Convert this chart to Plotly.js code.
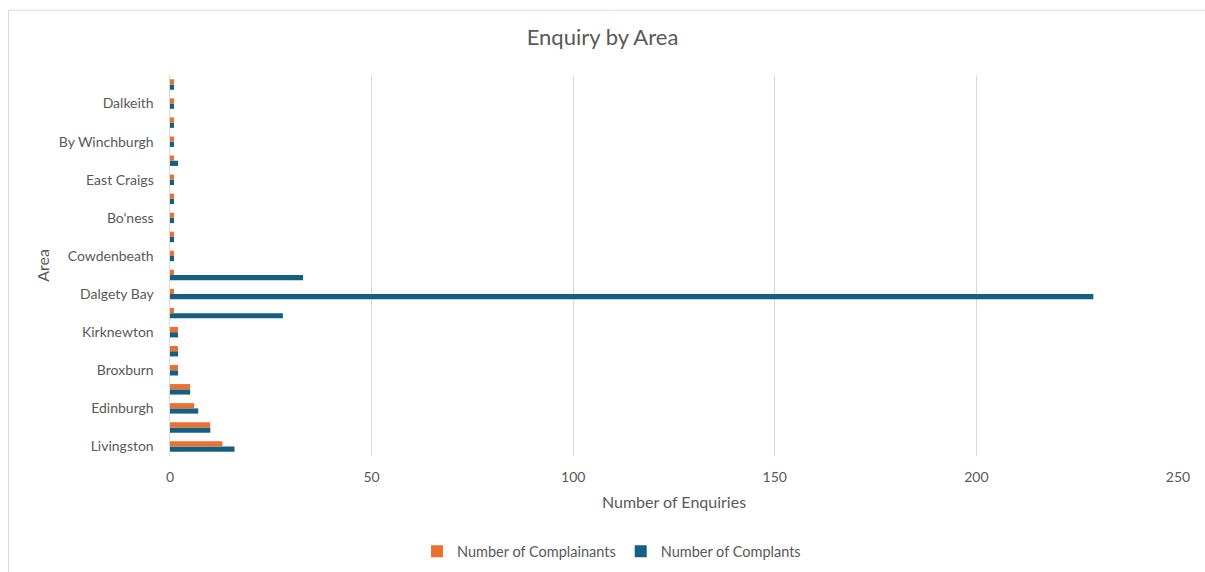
<!DOCTYPE html>
<html>
<head>
<meta charset="utf-8">
<script src="https://cdn.plot.ly/plotly-3.0.1.min.js"></script>
<style>
  html, body { margin: 0; padding: 0; background: #ffffff; overflow: hidden; }
  #chart { position: absolute; left: 0; top: 0; width: 1205px; height: 572px; }
</style>
</head>
<body>
<div id="chart"></div>
<script>
// 20 area rows, bottom to top; only every other row carries a visible label
const areaLabels = ["Livingston", "", "Edinburgh", "", "Broxburn", "", "Kirknewton", "", "Dalgety Bay", "",
                    "Cowdenbeath", "", "Bo'ness", "", "East Craigs", "", "By Winchburgh", "", "Dalkeith", ""];
const complainants = [13, 10, 6, 5, 2, 2, 2, 1, 1, 1, 1, 1, 1, 1, 1, 1, 1, 1, 1, 1];
const complaints   = [16, 10, 7, 5, 2, 2, 2, 28, 229, 33, 1, 1, 1, 1, 1, 2, 1, 1, 1, 1];
const xTicks = [0, 50, 100, 150, 200, 250];

const rowPos = areaLabels.map((_, i) => i);
const labelledPos = rowPos.filter(i => areaLabels[i] !== "");
const labelledText = labelledPos.map(i => areaLabels[i]);

const font = "Lato, 'Open Sans', sans-serif";
const grey = "#595959";
const M = { l: 170, r: 27, t: 74.5, b: 115.5 };
const plotH = 572 - M.t - M.b;

const data = [
  {
    type: "bar", orientation: "h", name: "Number of Complants",
    x: complaints, y: rowPos,
    marker: { color: "#156082" }, hoverinfo: "x+name"
  },
  {
    type: "bar", orientation: "h", name: "Number of Complainants",
    x: complainants, y: rowPos,
    marker: { color: "#E97132" }, hoverinfo: "x+name"
  }
];

const layout = {
  width: 1205, height: 572,
  paper_bgcolor: "#ffffff", plot_bgcolor: "rgba(0,0,0,0)",
  margin: { l: M.l, r: M.r, t: M.t, b: M.b, autoexpand: false },
  font: { family: font, color: grey, size: 14 },
  title: { text: "Enquiry by Area", x: 0.5, xanchor: "center", y: 0.935, yanchor: "middle",
           font: { family: font, size: 22, color: grey } },
  barmode: "group", bargap: 0.45, bargroupgap: 0,
  showlegend: true,
  legend: { orientation: "h", xref: "paper", x: 0.438, xanchor: "center",
            yref: "container", y: 0.036, yanchor: "middle",
            traceorder: "reversed", font: { family: font, size: 14.5, color: grey },
            itemwidth: 30, itemsizing: "constant" },
  shapes: [
    { type: "rect", xref: "paper", yref: "paper", layer: "below",
      x0: (8.5 - 170) / 1008, x1: 1.2, y0: -1, y1: (572 - 9.5 - M.b) / plotH,
      line: { color: "#d9d9d9", width: 1 }, fillcolor: "rgba(0,0,0,0)" }
  ],
  xaxis: {
    range: [0, 250], tickvals: xTicks, ticktext: xTicks.map(String),
    showgrid: true, gridcolor: "#d9d9d9", gridwidth: 1.3,
    zeroline: false, showline: false, ticks: "", ticklabelstandoff: 11,
    tickfont: { family: font, size: 14, color: grey },
    title: { text: "Number of Enquiries", standoff: 12, font: { family: font, size: 16, color: grey } },
    fixedrange: true
  },
  yaxis: {
    range: [-0.5, 19.5], tickvals: labelledPos, ticktext: labelledText,
    showgrid: false, zeroline: false, showline: true, linecolor: "#d9d9d9", linewidth: 1.5,
    ticks: "", ticklabelstandoff: 12,
    tickfont: { family: font, size: 14, color: grey },
    title: { text: "Area", standoff: 5, font: { family: font, size: 16, color: grey } },
    fixedrange: true
  }
};

Plotly.newPlot("chart", data, layout, { displayModeBar: false, staticPlot: true });
</script>
</body>
</html>
